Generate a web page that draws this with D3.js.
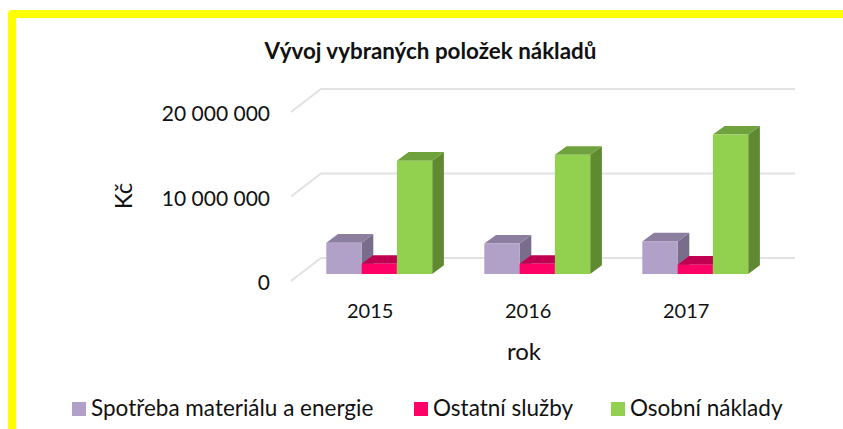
<!DOCTYPE html>
<html>
<head>
<meta charset="utf-8">
<script src="https://cdn.jsdelivr.net/npm/d3@7"></script>
<style>
  html, body { margin: 0; padding: 0; background: #fff; overflow: hidden; }
  text { font-family: Lato, "Open Sans", sans-serif; fill: #111; }
</style>
</head>
<body>
<div id="frame"></div>
<script>
const years = ["2015", "2016", "2017"];
const seriesNames = ["Spotřeba materiálu a energie", "Ostatní služby", "Osobní náklady"];
const material = [3700000, 3600000, 3850000];
const sluzby = [1200000, 1200000, 1100000];
const osobni = [13400000, 14100000, 16500000];
const yTicks = [0, 10000000, 20000000];
const fronts = ["#B1A0C7", "#FF0066", "#92D050"];
const tops = ["#8B7E9F", "#C00050", "#6FA23C"];
const sides = ["#786D8A", "#A00044", "#5F8A32"];

const width = 843, height = 429;
const values = [material, sluzby, osobni];

const svg = d3
  .select("#frame")
  .append("svg")
  .attr("width", width)
  .attr("height", height);

// yellow frame, open at the bottom and right
svg
  .append("path")
  .attr("d", `M12 ${height} V14 H${width}`)
  .attr("fill", "none")
  .attr("stroke", "#FFFF00")
  .attr("stroke-width", 8)
  .attr("stroke-linejoin", "round");

const x = d3.scaleBand().domain(years).range([300.2, 774.2]);
const x1 = d3.scaleBand().domain(d3.range(3)).range([26.1, 132]);

// y on the front edge of the floor
const y = d3.scaleLinear().domain([0, 20000000]).range([281, 112]);
const backDx = 30, backDy = -23;
const barDy = -7, depthX = 11.7, depthY = -8.7;

// gridlines: diagonal on the side wall, then along the back wall
svg
  .append("g")
  .selectAll("path")
  .data(yTicks)
  .join("path")
  .attr("d", (d) => `M291 ${y(d)} L${291 + backDx} ${y(d) + backDy} H795`)
  .attr("fill", "none")
  .attr("stroke", "#E2E2E2")
  .attr("stroke-width", 2);

// value labels
const yAxis = d3
  .axisLeft(y)
  .tickValues(yTicks)
  .tickSize(0)
  .tickPadding(0)
  .tickFormat((d) => d3.format(",")(d).replace(/,/g, " "));
const yG = svg.append("g").attr("transform", "translate(270,2)").call(yAxis);
yG.select(".domain").remove();
yG.selectAll("text").style("font-size", "21px").style("font-family", "Lato, sans-serif");

// bars
years.forEach((year, i) => {
  const g = svg.append("g");
  values.forEach((series, s) => {
    const x0 = x(year) + x1(s);
    const w = x1.bandwidth();
    const bottom = y(0) + barDy;
    const top = bottom - (y(0) - y(series[i]));
    g.append("path")
      .attr("d", `M${x0 + w} ${top} l${depthX} ${depthY} V${bottom + depthY} L${x0 + w} ${bottom} Z`)
      .attr("fill", sides[s]);
    g.append("path")
      .attr("d", `M${x0} ${top} l${depthX} ${depthY} h${w} l${-depthX} ${-depthY} Z`)
      .attr("fill", tops[s]);
    g.append("rect")
      .attr("x", x0)
      .attr("y", top)
      .attr("width", w)
      .attr("height", bottom - top)
      .attr("fill", fronts[s]);
  });
});

// year labels
const xAxis = d3.axisBottom(x).tickSize(0).tickPadding(0);
const xG = svg.append("g").attr("transform", "translate(-9,304)").call(xAxis);
xG.select(".domain").remove();
xG.selectAll("text").style("font-size", "20px").style("font-family", "Lato, sans-serif");

svg
  .append("text")
  .attr("x", 430.5)
  .attr("y", 59)
  .attr("text-anchor", "middle")
  .attr("font-size", 22.4)
  .attr("font-weight", 700)
  .text("Vývoj vybraných položek nákladů");

svg
  .append("text")
  .attr("x", 524)
  .attr("y", 360)
  .attr("text-anchor", "middle")
  .attr("font-size", 24)
  .text("rok");

svg
  .append("text")
  .attr("transform", "translate(132,196) rotate(-90)")
  .attr("text-anchor", "middle")
  .attr("font-size", 24)
  .text("Kč");

// legend
const legendX = [72, 414, 611];
const legend = svg
  .append("g")
  .selectAll("g")
  .data(seriesNames)
  .join("g")
  .attr("transform", (d, i) => `translate(${legendX[i]},402)`);
legend
  .append("rect")
  .attr("width", 14)
  .attr("height", 14)
  .attr("fill", (d, i) => fronts[i]);
legend
  .append("text")
  .attr("x", 19)
  .attr("y", 14)
  .attr("font-size", 22.5)
  .text((d) => d);
</script>
</body>
</html>
